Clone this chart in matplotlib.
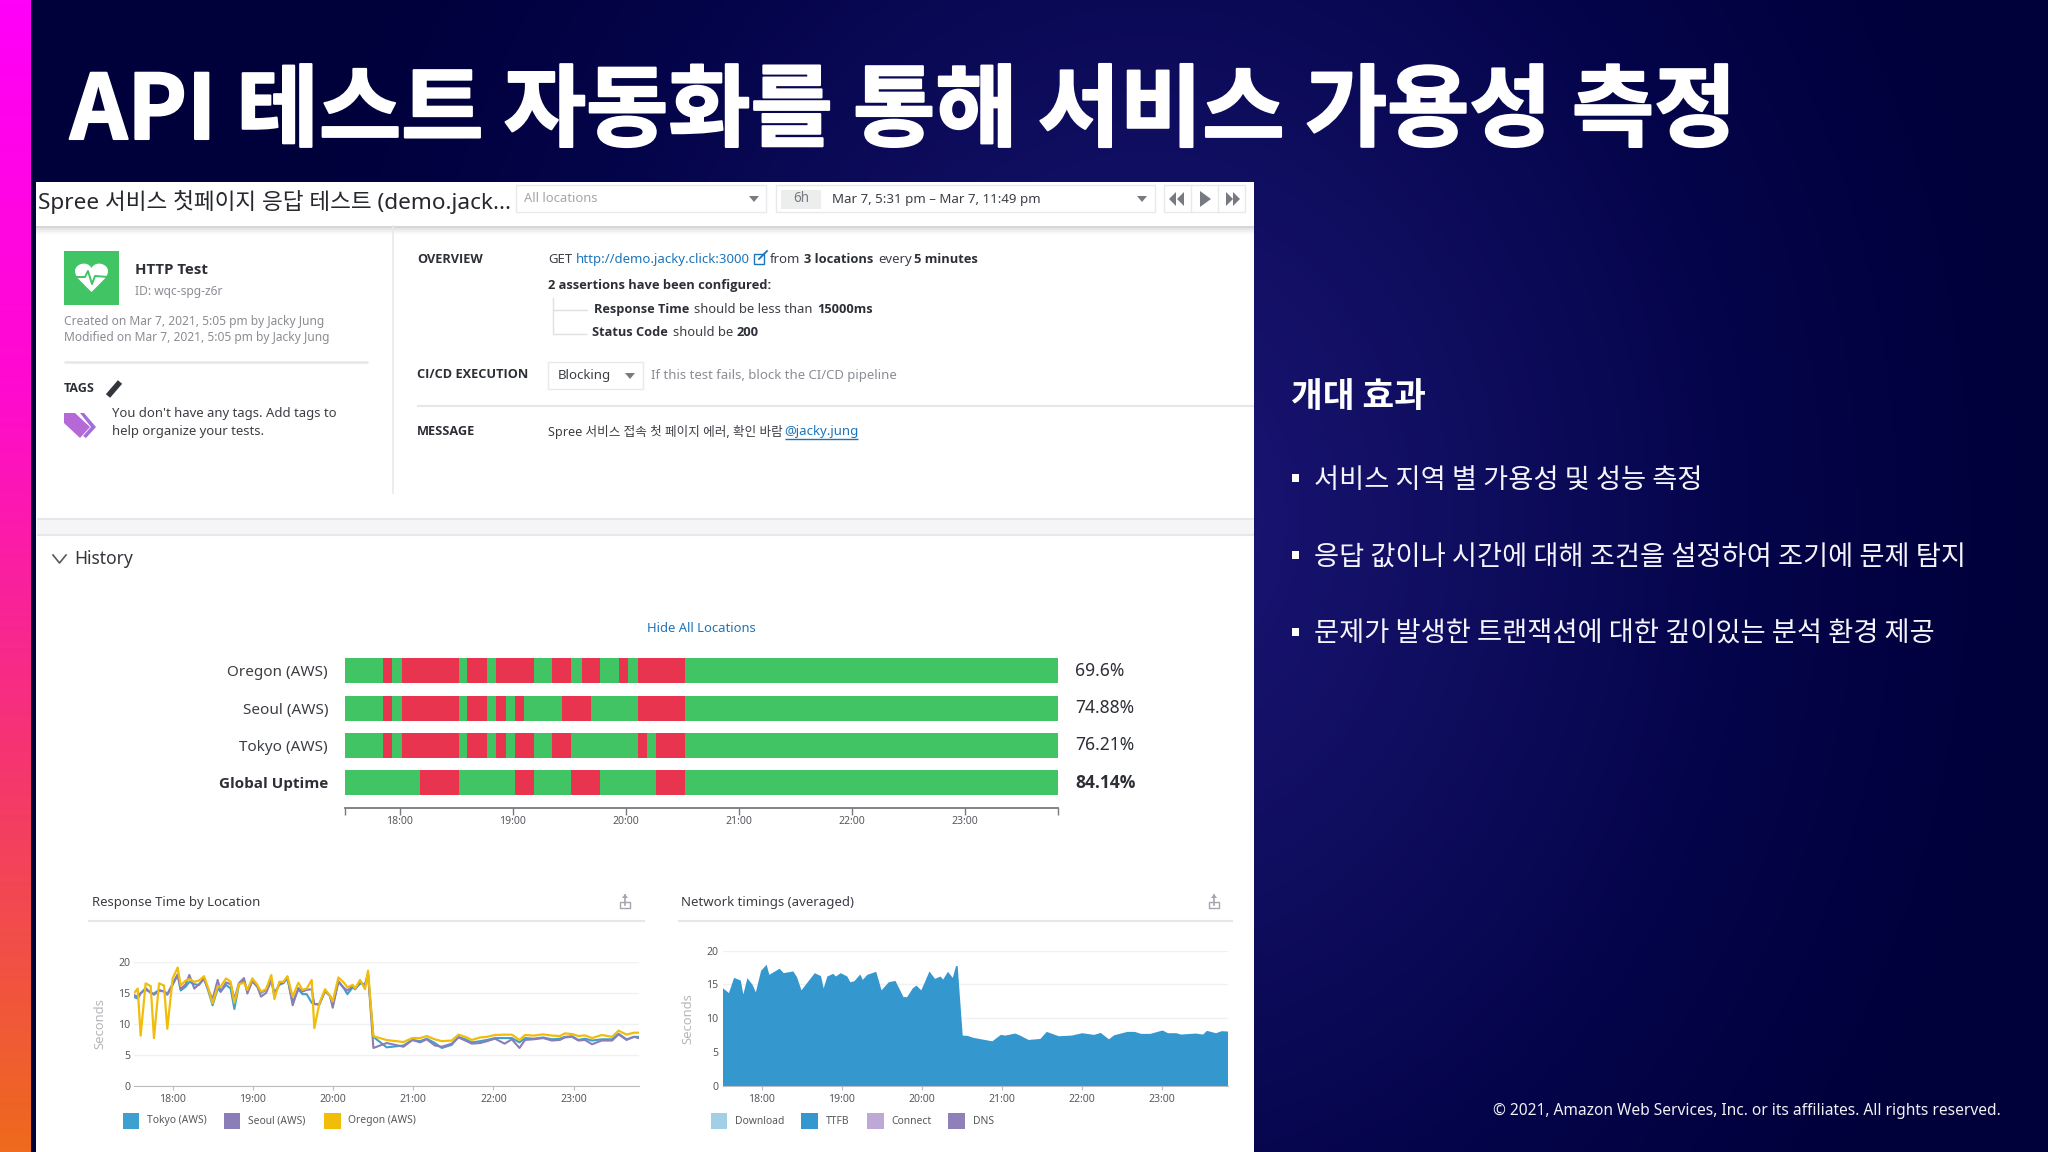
import numpy as np
import matplotlib
matplotlib.use("Agg")
import matplotlib.pyplot as plt
from matplotlib import font_manager
from matplotlib.patches import Rectangle, Polygon, PathPatch
from matplotlib.path import Path
from matplotlib.colors import LinearSegmentedColormap
import matplotlib.patheffects as pe

plt.rcParams['font.family'] = ['Noto Sans', 'Noto Sans CJK KR', 'DejaVu Sans']

W, H = 2048, 1152

# status bars: red stretches in decimal hours
rows = ["Oregon (AWS)", "Seoul (AWS)", "Tokyo (AWS)", "Global Uptime"]
uptime = ["69.6%", "74.88%", "76.21%", "84.14%"]
t_start, t_end = 17.515, 23.82
red_oregon = [(17.85, 17.937), (18.024, 18.524), (18.596, 18.771), (18.848, 19.188), (19.348, 19.517),
              (19.609, 19.774), (19.939, 20.021), (20.109, 20.525)]
red_seoul = [(17.85, 17.937), (18.024, 18.524), (18.596, 18.771), (18.848, 18.94), (19.018, 19.10),
             (19.44, 19.69), (20.109, 20.525)]
red_tokyo = [(17.85, 17.937), (18.024, 18.524), (18.596, 18.771), (18.848, 18.94), (19.018, 19.188),
             (19.348, 19.517), (20.109, 20.19), (20.27, 20.525)]
red_global = [(18.184, 18.524), (19.018, 19.188), (19.517, 19.774), (20.27, 20.525)]
hour_ticks = [18, 19, 20, 21, 22, 23]
hour_labels = ["18:00", "19:00", "20:00", "21:00", "22:00", "23:00"]

# response time by location
t_resp = [17.528, 17.566, 17.603, 17.665, 17.728, 17.769, 17.832, 17.894, 17.935, 18.002, 18.064, 18.102,
          18.164, 18.21, 18.272, 18.33, 18.393, 18.447, 18.50, 18.563, 18.60, 18.667, 18.725, 18.771,
          18.829, 18.891, 18.933, 18.995, 19.058, 19.103, 19.166, 19.232, 19.27, 19.332, 19.382, 19.432,
          19.498, 19.569, 19.619, 19.673, 19.735, 19.768, 19.831, 19.901, 19.964, 19.997, 20.068, 20.138,
          20.18, 20.246, 20.275, 20.338, 20.40, 20.437, 20.504,
          20.67, 20.879, 20.99, 21.086, 21.17, 21.27, 21.357, 21.48, 21.564, 21.65, 21.73, 21.835, 21.92,
          22.02, 22.14, 22.23, 22.325, 22.395, 22.5, 22.62, 22.73, 22.83, 22.89, 22.98, 23.06, 23.14, 23.23,
          23.35, 23.48, 23.56, 23.66, 23.75, 23.81]
oregon = [15.1, 15.7, 8.1, 16.55, 16.1, 7.7, 16.55, 16.2, 9.2, 17.35, 19.1, 16.2,
          17.0, 17.25, 16.8, 17.0, 17.7, 15.7, 13.3, 16.1, 16.0, 17.35, 16.8, 13.4,
          16.4, 16.65, 15.5, 17.35, 16.3, 15.2, 15.6, 17.9, 14.0, 16.8, 16.8, 17.7,
          14.4, 16.65, 15.5, 15.7, 17.1, 9.3, 13.3, 15.6, 14.5, 13.6, 17.5, 16.65,
          15.9, 16.3, 15.7, 17.1, 15.6, 18.6, 8.0,
          7.38, 7.06, 7.7, 7.7, 8.03, 7.5, 7.2, 7.3, 8.25, 7.9, 7.4, 7.8, 7.9,
          8.2, 8.25, 8.25, 7.4, 8.2, 8.1, 8.3, 8.1, 8.03, 8.46, 8.35, 8.03, 8.14, 7.7,
          8.2, 7.9, 8.9, 8.25, 8.57, 8.57]
seoul = [14.6, 14.4, 15.0, 15.5, 15.1, 14.7, 15.3, 15.3, 14.8, 16.5, 18.0, 15.6,
         16.4, 17.9, 15.7, 16.4, 17.2, 15.5, 14.0, 17.1, 15.2, 16.7, 16.4, 14.0,
         16.6, 17.4, 14.9, 16.9, 16.0, 14.4, 15.0, 17.0, 14.6, 16.5, 16.6, 17.6,
         13.0, 15.8, 15.2, 15.5, 15.6, 13.2, 13.2, 15.3, 14.5, 12.6, 16.9, 15.8,
         15.4, 16.1, 15.6, 16.8, 16.2, 18.2, 6.1,
         6.9, 6.3, 7.4, 7.0, 7.5, 6.5, 6.3, 6.8, 7.8, 7.3, 6.8, 6.9, 7.2,
         7.6, 6.8, 7.5, 6.1, 7.4, 7.5, 7.7, 7.3, 7.4, 7.8, 7.9, 7.3, 7.4, 6.7,
         7.3, 7.3, 8.3, 7.4, 7.9, 7.7]
tokyo = [14.3, 14.1, 14.9, 15.8, 15.0, 14.9, 15.5, 15.2, 14.7, 16.3, 17.9, 15.4,
         16.0, 16.8, 16.4, 16.3, 17.4, 15.3, 13.0, 15.7, 15.2, 16.3, 15.7, 12.4,
         16.4, 17.0, 15.4, 16.9, 16.0, 15.0, 15.5, 17.1, 15.0, 16.3, 16.6, 17.3,
         13.5, 15.6, 14.8, 14.8, 13.4, 13.2, 13.1, 15.3, 14.5, 13.0, 16.8, 15.7,
         14.8, 15.9, 15.6, 16.5, 16.4, 18.0, 7.9,
         6.2, 6.5, 7.4, 7.2, 7.6, 6.9, 6.1, 6.6, 7.9, 7.5, 7.0, 7.2, 7.4,
         7.7, 7.7, 7.7, 7.0, 7.7, 7.6, 7.8, 7.5, 7.6, 7.9, 8.0, 7.4, 7.6, 7.3,
         7.5, 7.5, 8.4, 7.5, 7.9, 7.9]

# network timings (averaged), TTFB
t_net = [17.51, 17.584, 17.649, 17.732, 17.764, 17.815, 17.88, 17.92, 17.986, 18.055, 18.088, 18.217, 18.268,
         18.388, 18.434, 18.49, 18.656, 18.734, 18.767, 18.813, 18.887, 18.919, 18.98, 19.062, 19.10, 19.15,
         19.224, 19.256, 19.312, 19.423, 19.49, 19.58, 19.663, 19.764, 19.81, 19.88, 19.926, 19.986, 20.088,
         20.157, 20.226, 20.259, 20.319, 20.379, 20.42, 20.44, 20.503, 20.563, 20.642, 20.873, 20.979, 21.035,
         21.16, 21.22, 21.326, 21.473, 21.552, 21.704, 21.866, 21.995, 22.143, 22.226, 22.328, 22.397, 22.559,
         22.651, 22.73, 22.845, 22.998, 23.067, 23.173, 23.228, 23.413, 23.505, 23.552, 23.667, 23.736, 23.815]
ttfb = [14.5, 13.8, 16.05, 15.65, 13.6, 16.0, 15.0, 13.9, 17.1, 18.0, 16.5, 17.4, 16.75,
        17.0, 16.15, 14.2, 16.75, 16.3, 14.5, 16.25, 16.65, 16.25, 16.75, 16.25, 15.4, 15.55,
        16.55, 15.75, 16.5, 16.95, 14.2, 15.4, 15.6, 13.2, 13.2, 14.5, 14.9, 14.2, 17.0,
        15.9, 16.25, 15.8, 16.95, 16.05, 17.8, 17.8, 7.5, 7.45, 7.15, 6.65, 7.6, 7.5,
        7.8, 7.5, 6.85, 7.0, 8.05, 7.4, 7.5, 7.85, 7.6, 7.9, 6.95, 7.55, 8.05,
        8.05, 7.75, 7.75, 8.25, 7.85, 7.85, 7.65, 7.8, 7.65, 8.2, 7.85, 8.15, 8.1]

green, red = "#41c464", "#e8344f"
c_tokyo, c_seoul, c_oregon = "#3ea0cf", "#8b7db8", "#f0bd0a"
link = "#1c75bc"
dark, grey = "#2c2f36", "#8a8d93"

# not every family here has a real bold file
bold_fam = 'Noto Sans CJK KR'
have_bold = {f.name for f in font_manager.fontManager.ttflist if f.weight in (700, 'bold')}
for name in ['Noto Sans', 'Open Sans', 'Lato']:
    if name in have_bold:
        bold_fam = name
        break
bold_list = [bold_fam, 'Noto Sans CJK KR', 'DejaVu Sans']

fig = plt.figure(figsize=(W / 100, H / 100), dpi=100)

# pixel layer for the slide and the page around the charts
bg = fig.add_axes([0, 0, 1, 1])
bg.set_axis_off()

yy, xx = np.mgrid[0:H:288j, 0:W:512j]
d = np.sqrt(((xx - 1150) / 900) ** 2 + ((yy - 520) / 1100) ** 2)
d = np.clip(d, 0, 1)
cm_bg = LinearSegmentedColormap.from_list("bg", ["#1c1678", "#100e60", "#04044a", "#00003a"])
bg.imshow(d, extent=(0, W, H, 0), cmap=cm_bg, vmin=0, vmax=1, aspect='auto', zorder=0)

strip = np.linspace(0, 1, 256).reshape(-1, 1)
cm_strip = LinearSegmentedColormap.from_list("strip", ["#ff00f8", "#ff0ad0", "#f5366e", "#ee6a1c"])
bg.imshow(strip, extent=(0, 31, H, 0), cmap=cm_strip, aspect='auto', zorder=1)
bg.set_xlim(0, W)
bg.set_ylim(H, 0)


def txt(x, y, s, px, color=dark, weight='normal', ha='left', **kw):
    if weight == 'bold' and 'family' not in kw:
        kw['family'] = bold_list
    return bg.text(x, y + 1, s, fontsize=px * 0.72, color=color, weight=weight, ha=ha, va='center', zorder=6, **kw)


def box(x0, y0, x1, y1, fc='white', ec='none', lw=1, z=3):
    bg.add_patch(Rectangle((x0, y0), x1 - x0, y1 - y0, fc=fc, ec=ec, lw=lw, zorder=z))


def tri(pts, color):
    bg.add_patch(Polygon(pts, closed=True, fc=color, ec='none', zorder=6))


def hline(x0, x1, y, color="#e6e7ea", lw=1.5):
    bg.plot([x0, x1], [y, y], color=color, lw=lw, zorder=4, solid_capstyle='butt')


def down_arrow(x, y, color="#777a80"):
    tri([(x - 5, y - 3), (x + 5, y - 3), (x, y + 3)], color)


# slide text
txt(70, 112, "API 테스트 자동화를 통해 서비스 가용성 측정", 89.4, color='white', weight='bold',
    family=['Noto Sans CJK KR'], path_effects=[pe.withStroke(linewidth=1.5, foreground='white')])
txt(1291, 396, "개대 효과", 34.5, color='white', weight='bold', family=['Noto Sans CJK KR'])
bullets = ["서비스 지역 별 가용성 및 성능 측정",
           "응답 값이나 시간에 대해 조건을 설정하여 조기에 문제 탐지",
           "문제가 발생한 트랜잭션에 대한 깊이있는 분석 환경 제공"]
for y, s in zip([478, 555, 632], bullets):
    box(1292, y - 4, 1299, y + 4, fc='white', z=5)
    txt(1314, y + 1, s, 27.3, color='#f4f4fa', family=['Noto Sans CJK KR'])
txt(2001, 1110, "© 2021, Amazon Web Services, Inc. or its affiliates. All rights reserved.", 15.5,
    color='#f0f0f5', ha='right')

# page
box(36, 182, 1254, H)
for i, a in enumerate([0.16, 0.1, 0.06, 0.03]):
    box(36, 226 + i * 2, 1254, 228 + i * 2, fc=(0, 0, 0, a), z=3.5)
box(37, 519, 1254, 535, fc="#f5f5f7")
hline(37, 1254, 519)
hline(37, 1254, 535)

# header bar
txt(38.5, 200.5, "Spree 서비스 첫페이지 응답 테스트 (demo.jack...", 22.6, color='#26282e')
box(516, 185, 766, 212, ec='#e8e9ec')
txt(523.5, 198, "All locations", 13, color='#a3a6ab')
down_arrow(754, 199)
box(776, 185, 1155, 212, ec='#e8e9ec')
box(781, 190, 821, 209, fc='#eceded', z=4)
txt(801, 198, "6h", 13.5, color='#777a80', ha='center')
txt(832, 198, "Mar 7, 5:31 pm – Mar 7, 11:49 pm", 13.3, color='#3b3e44')
down_arrow(1142, 199)
box(1164, 185, 1245, 212, ec='#e8e9ec')
bg.plot([1190.5, 1190.5], [185, 212], color='#e8e9ec', lw=1, zorder=4)
bg.plot([1218, 1218], [185, 212], color='#e8e9ec', lw=1, zorder=4)
nav = "#777a80"
tri([(1176, 192), (1176, 206), (1169, 199)], nav)
tri([(1184, 192), (1184, 206), (1177, 199)], nav)
tri([(1200, 191), (1200, 207), (1211, 199)], nav)
tri([(1226, 192), (1226, 206), (1233, 199)], nav)
tri([(1233, 192), (1233, 206), (1240, 199)], nav)

# test card
bg.plot([392.5, 392.5], [226, 493], color='#e8e9ec', lw=1.2, zorder=4)
bg.add_patch(Rectangle((64, 251), 54.5, 53.5, fc=green, ec='none', zorder=4))
heart = Path([(91.5, 292), (84, 284), (75, 278), (75, 271), (75, 264), (87, 260), (91.5, 268),
              (96, 260), (108, 264), (108, 271), (108, 278), (99, 284), (91.5, 292)],
             [Path.MOVETO] + [Path.CURVE4] * 12)
bg.add_patch(PathPatch(heart, fc='white', ec='none', zorder=5))
bg.plot([75, 85, 88, 92, 95, 108], [277, 277, 271, 284, 276, 277], color=green, lw=1.4, zorder=6)
txt(135, 268.5, "HTTP Test", 15, weight='bold')
txt(135, 290.5, "ID: wqc-spg-z6r", 12, color=grey)
txt(64, 320.5, "Created on Mar 7, 2021, 5:05 pm by Jacky Jung", 12, color=grey)
txt(64, 336.5, "Modified on Mar 7, 2021, 5:05 pm by Jacky Jung", 12, color=grey)
hline(64, 368, 362, lw=1.8)
txt(64, 387, "TAGS", 12.5, weight='bold')
bg.plot([108, 120], [396, 382], color='#33363c', lw=4, zorder=6, solid_capstyle='butt')
tri([(64, 413), (75, 413), (90, 427), (80, 438), (64, 423)], '#b469d6')
tri([(80, 413), (84, 413), (96, 427), (86, 438), (83, 436), (91, 427)], '#a06fd8')
txt(112, 412.5, "You don't have any tags. Add tags to", 13.1, color='#3b3e44')
txt(112, 430.5, "help organize your tests.", 13.1, color='#3b3e44')

for y, s in zip([258.5, 374, 430.5], ["OVERVIEW", "CI/CD EXECUTION", "MESSAGE"]):
    txt(417.3, y, s, 12.8, weight='bold')
txt(548, 258.5, "GET", 13.2, color='#3b3e44')
txt(576, 258.5, "http://demo.jacky.click:3000", 13.2, color=link)
bg.add_patch(Rectangle((754, 254), 10, 10, fc='none', ec=link, lw=1, zorder=6))
bg.plot([759, 767], [259, 251], color=link, lw=1.3, zorder=6)
txt(770, 258.5, "from", 13.2, color='#3b3e44')
txt(804, 258.5, "3 locations", 12.9, weight='bold')
txt(878, 258.5, "every", 13.2, color='#3b3e44')
txt(914.5, 258.5, "5 minutes", 12.9, weight='bold')
txt(548, 284.5, "2 assertions have been configured:", 12.9, weight='bold')
bg.plot([552.5, 552.5, 586], [298, 334, 334], color='#dfe0e3', lw=1, zorder=4)
bg.plot([552.5, 587], [310, 310], color='#dfe0e3', lw=1, zorder=4)
txt(593.5, 308.5, "Response Time", 12.7, weight='bold')
txt(694.5, 308.5, "should be less than", 13, color='#3b3e44')
txt(817, 308.5, "15000ms", 12.8, weight='bold')
txt(592.5, 332, "Status Code", 12.7, weight='bold')
txt(673, 332, "should be", 13, color='#3b3e44')
txt(737, 332, "200", 12.9, weight='bold')
box(548, 362, 643, 389, ec='#e8e9ec')
txt(557.5, 374, "Blocking", 13.2, color='#3b3e44')
down_arrow(630, 376)
txt(651, 374, "If this test fails, block the CI/CD pipeline", 13.2, color=grey)
hline(417, 1254, 405.5)
txt(548, 430.5, "Spree 서비스 접속 첫 페이지 에러, 확인 바람", 12.6, color='#3b3e44')
txt(784.5, 430.5, "@jacky.jung", 13.2, color=link)
hline(784.5, 858, 438.5, color=link, lw=1)

bg.plot([53, 59.5, 66], [555, 563, 555], color='#55585e', lw=1.2, zorder=6)
txt(74, 558.5, "History", 17.5, color='#33363c')
txt(701, 627, "Hide All Locations", 13, color=link, ha='center')

# status bars


def axes_px(x0, y0, x1, y1):
    return fig.add_axes([x0 / W, 1 - y1 / H, (x1 - x0) / W, (y1 - y0) / H], facecolor='none')


ax = axes_px(344.7, 656, 1058, 808)
row_red = [red_oregon, red_seoul, red_tokyo, red_global]
for i, spans in enumerate(row_red):
    ax.broken_barh([(t_start, t_end - t_start)], (i - 0.335, 0.67), facecolor=green)
    ax.broken_barh([(a, b - a) for a, b in spans], (i - 0.335, 0.67), facecolor=red)
ax.set_xlim(t_start, t_end)
ax.set_ylim(3.675, -0.395)
ax.set_yticks(range(4))
ax.set_yticklabels(rows, fontsize=15.3 * 0.72, color='#3b3e44')
ax.get_yticklabels()[3].set_family(bold_list)
ax.get_yticklabels()[3].set_weight('bold')
ax.get_yticklabels()[3].set_color(dark)
ax.tick_params(axis='y', length=0, pad=12)
ax.set_xticks([t_start] + hour_ticks + [t_end])
ax.set_xticklabels([''] + hour_labels + [''], fontsize=10.5 * 0.72, color='#55585e')
ax.tick_params(axis='x', length=5, width=1, color='#777a80', pad=0.5)
for s in ['top', 'left', 'right']:
    ax.spines[s].set_visible(False)
ax.spines['bottom'].set_color('#777a80')
ax.spines['bottom'].set_linewidth(1.3)
for i, s in enumerate(uptime):
    ax.annotate(s, (1, i), xycoords=('axes fraction', 'data'), xytext=(12.4, 0),
                textcoords='offset points', fontsize=17.5 * 0.72, va='center', color=dark,
                weight='bold' if i == 3 else 'normal', family=bold_list if i == 3 else None)

# small charts
txt(92.5, 901.5, "Response Time by Location", 13.2, color='#3b3e44')
txt(681, 901.5, "Network timings (averaged)", 13.2, color='#3b3e44')
hline(88, 645, 920.5)
hline(678, 1232.5, 920.5)
for x in [625, 1214]:
    box(x - 5, 902, x + 5, 908, fc='none', ec='#a3a6ab', z=5)
    bg.plot([x, x], [895, 905], color='#a3a6ab', lw=1.2, zorder=6)
    tri([(x - 3, 898), (x + 3, 898), (x, 894)], '#a3a6ab')


def small_chart(x0, y0, x1, y1, xlim):
    a = axes_px(x0, y0, x1, y1)
    a.set_xlim(*xlim)
    a.set_ylim(0, 20)
    a.set_yticks([0, 5, 10, 15, 20])
    a.set_xticks(hour_ticks)
    a.set_xticklabels(hour_labels)
    a.tick_params(axis='x', labelsize=10.5 * 0.72, labelcolor='#55585e', length=3, width=0.8, color='#bbbcc0', pad=3)
    a.tick_params(axis='y', labelsize=10.5 * 0.72, labelcolor='#55585e', length=0, pad=3)
    a.grid(axis='y', color='#f1f1f3', lw=1)
    a.set_axisbelow(True)
    for s in ['top', 'left', 'right']:
        a.spines[s].set_visible(False)
    a.spines['bottom'].set_color('#bbbcc0')
    a.set_ylabel("Seconds", fontsize=13 * 0.72, color='#b4b6ba', labelpad=8.5)
    return a


ax1 = small_chart(134.4, 962, 638.6, 1085.7, (17.525, 23.81))
ax1.plot(t_resp, tokyo, color=c_tokyo, lw=1.5)
ax1.plot(t_resp, seoul, color=c_seoul, lw=1.5)
ax1.plot(t_resp, oregon, color=c_oregon, lw=1.6)

ax2 = small_chart(722.5, 950.7, 1227.5, 1085.7, (17.51, 23.815))
ax2.fill_between(t_net, ttfb, 0, color="#3498cf", lw=0)

legend1 = [("Tokyo (AWS)", c_tokyo, 122.5), ("Seoul (AWS)", c_seoul, 223.5), ("Oregon (AWS)", c_oregon, 324)]
legend2 = [("Download", "#a0cfe8", 710.7), ("TTFB", "#3498cf", 801), ("Connect", "#bda8d8", 867), ("DNS", "#8f7fbb", 948)]
for name, col, x in legend1 + legend2:
    box(x, 1113, x + 16.5, 1129, fc=col, z=5)
    txt(x + 24.5, 1120, name, 10.3, color='#55585e')

fig.savefig("out.png", dpi=100)
